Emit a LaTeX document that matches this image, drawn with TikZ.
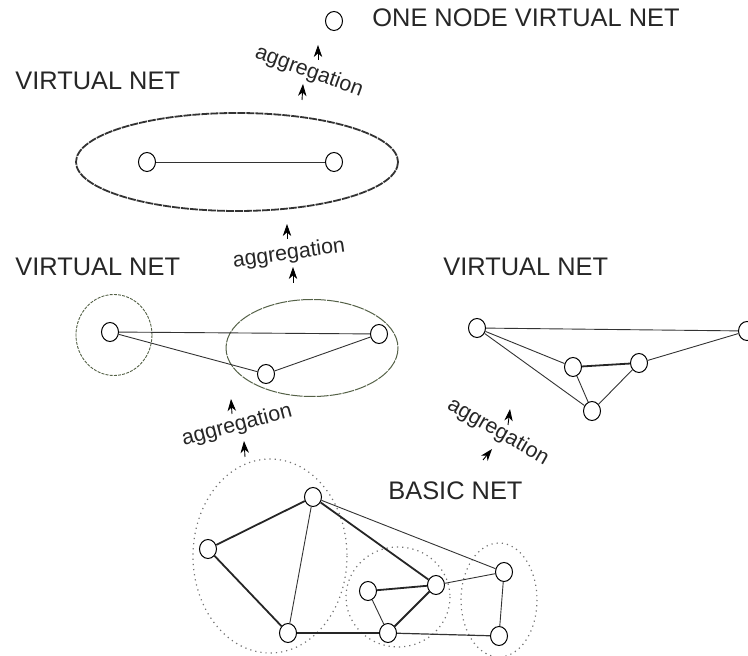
\documentclass[tikz,border=0pt]{standalone}
\usepackage{fontspec}
\setmainfont{Liberation Sans}
\usetikzlibrary{arrows.meta,shapes.geometric}

\definecolor{ringgreen}{rgb}{0.33,0.38,0.28}
\tikzset{
  vnode/.style={draw,ellipse,inner sep=0pt,minimum width=8.5pt,minimum height=9.5pt,line width=0.5pt,fill=white},
  title/.style={anchor=base west,inner sep=0pt,text=black!85,font=\fontsize{12.7}{15}\selectfont},
  agg/.style={inner sep=0pt,text=black!85,font=\fontsize{10.7}{13}\selectfont},
  thinedge/.style={line width=0.45pt,black!80},
  thickedge/.style={line width=0.9pt,black!85},
  aggarrow/.style={->,line width=0.45pt},
}

\begin{document}
\begin{tikzpicture}[x=0.5pt,y=-0.5pt,>={Stealth[length=6pt,width=4.2pt,inset=1.8pt]}]
  \useasboundingbox (0,0) rectangle (748,656);
  % titles
  \node[title] (tone) at (372,27){ONE NODE VIRTUAL NET};
  \node[vnode] (solo) at (334,21){};
  \node[title] (ttop) at (15,90){VIRTUAL NET};
  \node[title] (tmid) at (15,276){VIRTUAL NET};
  \node[title] (tright) at (443,276){VIRTUAL NET};
  \node[title] (tbasic) at (388,500){BASIC NET};

  % top virtual net
  \draw[line width=0.9pt,black!80,dash pattern=on 4pt off 0.5pt] (237,162) ellipse [x radius=161,y radius=49];
  \node[vnode] (v1) at (147,162){};
  \node[vnode] (v2) at (334,162){};
  \draw[thinedge] (v1)--(v2);

  % middle virtual net
  \draw[ringgreen,line width=0.45pt,dash pattern=on 1.5pt off 0.6pt] (114,335) ellipse [x radius=38,y radius=40.5];
  \draw[ringgreen,line width=0.5pt,dash pattern=on 6pt off 0.5pt] (312,348) ellipse [x radius=86,y radius=48.5];
  \node[vnode] (ma) at (110,332){};
  \node[vnode] (mb) at (379,334){};
  \node[vnode] (mc) at (266,374){};
  \draw[thinedge] (ma)--(mb) (ma)--(mc) (mc)--(mb);

  % right virtual net
  \node[vnode] (rd) at (477,328){};
  \node[vnode] (re) at (747,331){};
  \node[vnode] (rf) at (573,367){};
  \node[vnode] (rg) at (639,363){};
  \node[vnode] (rh) at (592,411){};
  \draw[thinedge] (rd)--(re) (rd)--(rf) (rd)--(rh) (rf)--(rh) (rg)--(rh) (rg)--(re);
  \draw[thickedge] (rf)--(rg);

  % basic net
  \draw[black!55,dotted,line width=0.6pt] (270,556) ellipse [x radius=77,y radius=97];
  \draw[black!55,dotted,line width=0.6pt] (398,597) ellipse [x radius=52,y radius=50];
  \draw[black!55,dotted,line width=0.6pt] (499,600) ellipse [x radius=38,y radius=57];
  \node[vnode] (b1) at (313,497){};
  \node[vnode] (b2) at (208,549){};
  \node[vnode] (b3) at (288,633){};
  \node[vnode] (b4) at (368,591){};
  \node[vnode] (b5) at (436,585){};
  \node[vnode] (b6) at (388,633){};
  \node[vnode] (b7) at (504,572){};
  \node[vnode] (b8) at (499,636){};
  \draw[thickedge] (b1)--(b2) (b2)--(b3) (b1)--(b5) (b3)--(b6) (b4)--(b5) (b5)--(b6);
  \draw[thinedge] (b1)--(b3) (b1)--(b7) (b4)--(b6) (b5)--(b7) (b7)--(b8);
  \draw[line width=0.6pt,black!80] (b6)--(b8);

  % aggregation steps
  \node[agg,rotate=-20] (agtop) at (309,72){aggregation};
  \node[agg,rotate=8] (agmid) at (289,254){aggregation};
  \node[agg,rotate=15] (agleft) at (237,426){aggregation};
  \node[agg,rotate=-30] (agright) at (498,432){aggregation};
  \coordinate (t1s) at (318,60); \coordinate (t1e) at (318,45);
  \coordinate (t2s) at (302,100); \coordinate (t2e) at (303,84);
  \coordinate (m1s) at (287,239); \coordinate (m1e) at (287,224);
  \coordinate (m2s) at (293,283); \coordinate (m2e) at (293,267);
  \coordinate (l1s) at (232,414); \coordinate (l1e) at (231,399);
  \coordinate (l2s) at (245,457); \coordinate (l2e) at (244,441);
  \coordinate (r1s) at (508,425); \coordinate (r1e) at (510,409);
  \coordinate (r2s) at (483,460); \coordinate (r2e) at (492,449);
  \draw[aggarrow] (t1s)--(t1e); \draw[aggarrow] (t2s)--(t2e);
  \draw[aggarrow] (m1s)--(m1e); \draw[aggarrow] (m2s)--(m2e);
  \draw[aggarrow] (l1s)--(l1e); \draw[aggarrow] (l2s)--(l2e);
  \draw[aggarrow] (r1s)--(r1e); \draw[aggarrow] (r2s)--(r2e);
\end{tikzpicture}
\end{document}
